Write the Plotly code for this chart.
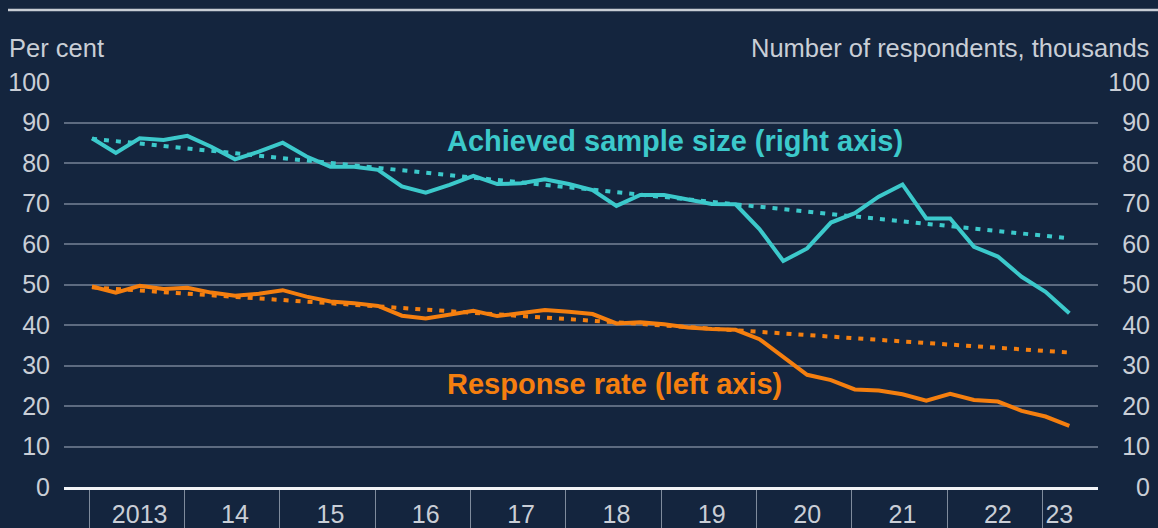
import plotly.graph_objects as go

# ---- data (quarterly, 2013 Q1 .. 2023 Q2) ----
years = list(range(2013, 2024))
periods = [(y, q) for y in years for q in (1, 2, 3, 4)][:42]

sample_size = [86.1, 82.5, 86.1, 85.7, 86.7, 84.0, 80.9, 82.8, 85.0, 81.6, 79.1, 79.1, 78.3, 74.2,
               72.7, 74.6, 76.8, 74.8, 75.0, 76.0, 74.8, 73.3, 69.4, 72.1, 72.1, 71.0, 69.9, 69.8,
               63.7, 55.8, 58.9, 65.3, 67.6, 71.7, 74.7, 66.3, 66.3, 59.3, 56.9, 51.9, 48.2, 42.9]
response_rate = [49.5, 48.0, 49.7, 48.9, 49.2, 48.0, 47.2, 47.7, 48.6, 47.0, 45.8, 45.4, 44.7, 42.3,
                 41.6, 42.5, 43.5, 42.2, 42.9, 43.7, 43.3, 42.7, 40.4, 40.7, 40.2, 39.4, 39.0, 38.8,
                 36.5, 32.2, 27.7, 26.4, 24.1, 23.8, 22.9, 21.3, 23.0, 21.5, 21.1, 18.8, 17.4, 15.1]

trend_periods = [(2013, 1), (2023, 2)]
trend_sample = [86.0, 61.4]
trend_response = [49.3, 33.2]

tick_labels = ["2013", "14", "15", "16", "17", "18", "19", "20", "21", "22", "23"]

def to_num(p):
    return p[0] + (p[1] - 1) / 4.0

x = [to_num(p) for p in periods]
tx = [to_num(p) for p in trend_periods]
label_pos = [y + 0.5 for y in years[:-1]] + [(years[-1] + x[-1]) / 2 + 0.02]

BG = "#14253e"
TEAL = "#3cc9cb"
ORANGE = "#f57f0f"
TXT = "#c9ced6"
GRID = "#5d6b80"
FONT = "Liberation Sans, Arial, sans-serif"

fig = go.Figure()
fig.add_trace(go.Scatter(x=tx, y=trend_sample, mode="lines", yaxis="y2",
                         line=dict(color=TEAL, width=4, dash="5px,7px"), hoverinfo="skip"))
fig.add_trace(go.Scatter(x=tx, y=trend_response, mode="lines",
                         line=dict(color=ORANGE, width=4, dash="5px,7px"), hoverinfo="skip"))
fig.add_trace(go.Scatter(x=x, y=sample_size, mode="lines", yaxis="y2",
                         line=dict(color=TEAL, width=4)))
fig.add_trace(go.Scatter(x=x, y=response_rate, mode="lines",
                         line=dict(color=ORANGE, width=4)))

W, H = 1158, 528
L, R, T, B = 64, 8, 82, 41
pw = W - L - R
ph = H - T - B
plot_right = 1098
dom_r = (plot_right - L) / pw

x0 = 2013 - (92 - L) / 95.35
x1 = 2013 + (plot_right - 92) / 95.35

TICKSZ = 25

fig.update_layout(
    width=W, height=H,
    margin=dict(l=L, r=R, t=T, b=B, autoexpand=False),
    paper_bgcolor=BG, plot_bgcolor=BG,
    showlegend=False,
    font=dict(family=FONT, color=TXT, size=TICKSZ),
    xaxis=dict(
        domain=[0, dom_r], range=[x0, x1], automargin=False,
        tickmode="array", tickvals=label_pos, ticktext=tick_labels,
        ticks="outside", ticklen=3, tickcolor="rgba(0,0,0,0)",
        showgrid=False, zeroline=False,
        showline=True, linecolor="#f2f4f7", linewidth=2.5,
        minor=dict(tickmode="linear", tick0=2012.97, dtick=1, ticks="outside",
                   ticklen=45, tickcolor="#7f8b9c", tickwidth=1.2, showgrid=False),
        tickfont=dict(size=TICKSZ, color=TXT),
        fixedrange=True,
    ),
    yaxis=dict(
        range=[0, 100], dtick=10, tick0=0, automargin=False,
        showgrid=True, gridcolor=GRID, gridwidth=1.5,
        zeroline=False, showline=False,
        ticks="", ticklabelstandoff=13,
        tickfont=dict(size=TICKSZ, color=TXT),
    ),
    yaxis2=dict(
        range=[0, 100], dtick=10, tick0=0, overlaying="y", automargin=False,
        side="left", anchor="free", position=1.0,
        showgrid=False, zeroline=False, showline=False,
        ticks="", ticklabelstandoff=0,
        tickfont=dict(size=TICKSZ, color=TXT),
    ),
)

def py(ypx):
    return (H - B - ypx) / ph

def px(xpx):
    return (xpx - L) / pw

fig.add_annotation(text="Per cent", xref="paper", yref="paper", x=px(7), y=py(48),
                   xanchor="left", yanchor="middle", showarrow=False,
                   font=dict(size=25.5, color=TXT))
fig.add_annotation(text="Number of respondents, thousands", xref="paper", yref="paper",
                   x=px(1151), y=py(48), xanchor="right", yanchor="middle", showarrow=False,
                   font=dict(size=25.5, color=TXT))
fig.add_annotation(text="<b>Achieved sample size (right axis)</b>", xref="paper", yref="paper",
                   x=px(445), y=py(141), xanchor="left", yanchor="middle", showarrow=False,
                   font=dict(size=29, color=TEAL))
fig.add_annotation(text="<b>Response rate (left axis)</b>", xref="paper", yref="paper",
                   x=px(445), y=py(384), xanchor="left", yanchor="middle", showarrow=False,
                   font=dict(size=29, color=ORANGE))

fig.add_shape(type="line", xref="paper", yref="paper", x0=px(8), x1=px(1158), y0=py(10), y1=py(10),
              line=dict(color="#c8cdd5", width=2.5))

fig.write_html("out.html", config={"displayModeBar": False},
               post_script="document.body.style.margin='0';document.body.style.overflow='hidden';")
